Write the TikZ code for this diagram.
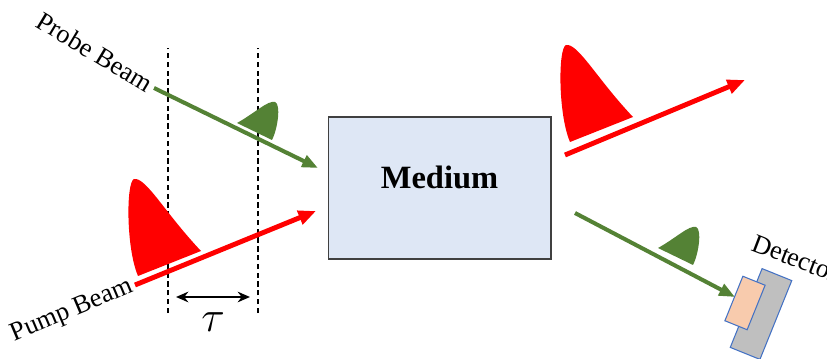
\documentclass[tikz,border=0pt]{standalone}
\usepackage{fontspec}
\setmainfont{Liberation Serif}
\usetikzlibrary{arrows.meta, positioning}
\definecolor{beamgreen}{RGB}{84, 130, 53}
\definecolor{beamred}{RGB}{255, 0, 0}
\definecolor{mediumfill}{RGB}{222, 231, 245}
\definecolor{mediumline}{RGB}{64, 64, 64}
\definecolor{detgray}{RGB}{191, 191, 191}
\definecolor{detline}{RGB}{68, 114, 196}
\definecolor{sensor}{RGB}{248, 203, 173}

\begin{document}
\begin{tikzpicture}[x=0.02cm, y=0.02cm,
    probe/.style={draw=beamgreen, line width=2.3pt, -{Triangle[length=9pt, width=7pt]}},
    pump/.style={draw=beamred, line width=2.8pt, -{Triangle[length=10pt, width=8pt]}},
    delayline/.style={draw=black, line width=0.8pt, dash pattern=on 3pt off 2pt},
    beamlabel/.style={font=\fontsize{15}{17}\selectfont, inner sep=0pt},
    medbox/.style={draw=mediumline, fill=mediumfill, line width=0.6pt, minimum width=4.46cm, minimum height=2.84cm, inner sep=0pt},
    detbody/.style={draw=detline, fill=detgray, line width=0.6pt, minimum width=0.64cm, minimum height=1.7cm, inner sep=0pt},
    sensorpad/.style={draw=detline, fill=sensor, line width=0.6pt, minimum width=0.48cm, minimum height=0.96cm, inner sep=0pt}]
  \useasboundingbox (0,0) rectangle (827,358);

  % delay markers
  \draw[delayline] (168,45) -- (168,310);
  \draw[delayline] (258,45) -- (258,310);
  \coordinate (tauL) at (176,61);
  \coordinate (tauR) at (250,61);
  \draw[{Stealth[length=7pt, width=6pt]}-{Stealth[length=7pt, width=6pt]}, line width=1.3pt] (tauL) -- (tauR);
  \node[font=\fontsize{23}{25}\selectfont] (tau) at (213,36) {$\tau$};

  % medium
  \node[medbox] (med) at (439.5,170) {};
  \node[font=\bfseries\fontsize{18.5}{20}\selectfont] (medtext) at ([yshift=0.22cm]med.center) {Medium};

  % incoming beams
  \coordinate (probeA) at (154,270);
  \coordinate (probeB) at (318,190);
  \coordinate (pumpA) at (135,73);
  \coordinate (pumpB) at (316,147);
  \draw[probe] (probeA) -- (probeB);
  \draw[pump] (pumpA) -- (pumpB);
  \node[beamlabel, rotate=-31] (probelabel) at (95,306) {Probe Beam};
  \node[beamlabel, rotate=23] (pumplabel) at (72,47) {Pump Beam};

  % pulses
  \fill[beamgreen] (237,235) .. controls (255,245) and (268,258) .. (275,256)
    .. controls (281,254) and (278,230) .. (272,218) -- cycle;
  \fill[beamred] (138,82) .. controls (126,110) and (126,176) .. (134,179)
    .. controls (146,181) and (165,145) .. (201,107) -- cycle;
  \begin{scope}[shift={(432,134)}]
    \fill[beamred] (138,82) .. controls (126,110) and (126,176) .. (134,179)
      .. controls (146,181) and (165,145) .. (201,107) -- cycle;
  \end{scope}
  \begin{scope}[shift={(421,-125)}]
    \fill[beamgreen] (237,235) .. controls (255,245) and (268,258) .. (275,256)
      .. controls (281,254) and (278,230) .. (272,218) -- cycle;
  \end{scope}

  % outgoing beams
  \coordinate (pumpC) at (565,203);
  \coordinate (pumpD) at (745,278);
  \coordinate (probeC) at (575,145);
  \coordinate (probeD) at (735,61);
  \draw[pump] (pumpC) -- (pumpD);
  \draw[probe] (probeC) -- (probeD);

  % detector
  \node[detbody, rotate=-22] (det) at (761,44) {};
  \node[sensorpad, rotate=-22] (pad) at (745,55) {};
  \node[beamlabel, rotate=-21, anchor=base west] (detlabel) at (750,108) {Detector};
\end{tikzpicture}
\end{document}
